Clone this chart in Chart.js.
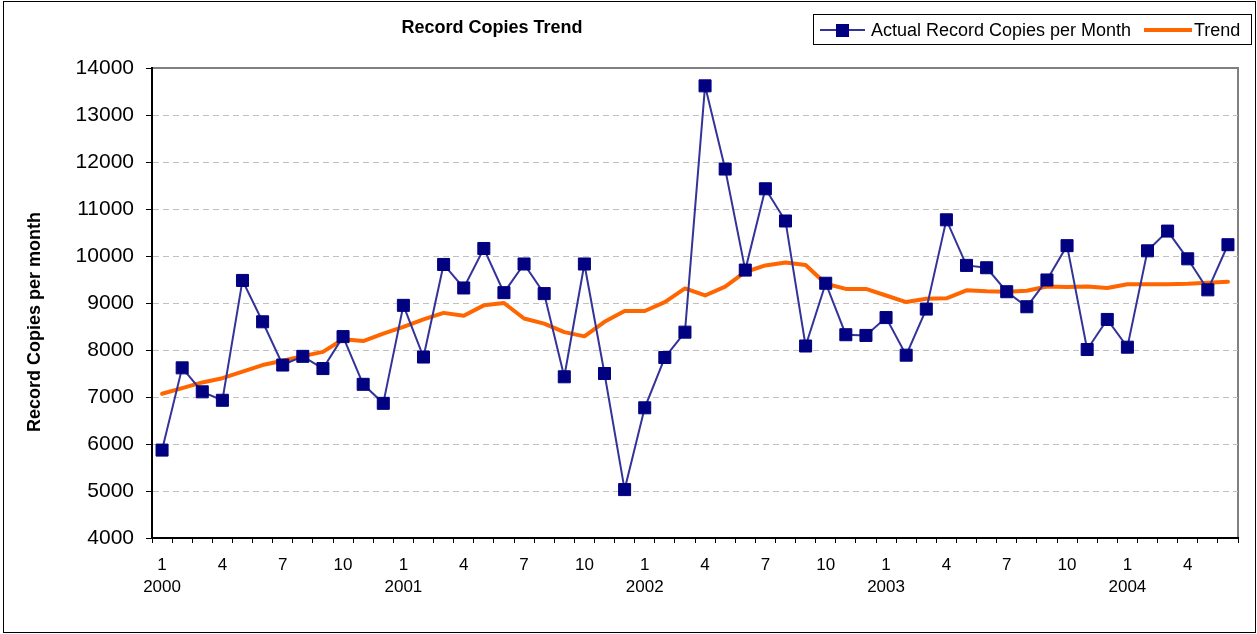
<!DOCTYPE html>
<html>
<head>
<meta charset="utf-8">
<title>Record Copies Trend</title>
<script src="https://cdn.jsdelivr.net/npm/chart.js@4.4.0/dist/chart.umd.min.js"></script>
<style>
  html, body { margin: 0; padding: 0; background: #fff; }
  #wrap { position: relative; width: 1257px; height: 634px; }
</style>
</head>
<body>
<div id="wrap"><canvas id="record-trend"></canvas></div>
<script>
// one entry per month, Jan 2000 .. Jun 2004
var months = [1,2,3,4,5,6,7,8,9,10,11,12,
              1,2,3,4,5,6,7,8,9,10,11,12,
              1,2,3,4,5,6,7,8,9,10,11,12,
              1,2,3,4,5,6,7,8,9,10,11,12,
              1,2,3,4,5,6];
var years = [2000,2000,2000,2000,2000,2000,2000,2000,2000,2000,2000,2000,
             2001,2001,2001,2001,2001,2001,2001,2001,2001,2001,2001,2001,
             2002,2002,2002,2002,2002,2002,2002,2002,2002,2002,2002,2002,
             2003,2003,2003,2003,2003,2003,2003,2003,2003,2003,2003,2003,
             2004,2004,2004,2004,2004,2004];

var actualCopies = [5870, 7620, 7110, 6930, 9480, 8600, 7680, 7865, 7605, 8285, 7270, 6865,
                    8950, 7850, 9820, 9320, 10160, 9220, 9830, 9200, 7430, 9830, 7500, 5030,
                    6770, 7840, 8380, 13620, 11850, 9700, 11430, 10745, 8085, 9420, 8325, 8310,
                    8690, 7890, 8870, 10770, 9800, 9750, 9240, 8920, 9490, 10220, 8010, 8650,
                    8060, 10110, 10530, 9940, 9280, 10240];

var trendCopies = [7070, 7190, 7310, 7400, 7540, 7680, 7770, 7870, 7960, 8230, 8190, 8350,
                   8490, 8650, 8790, 8730, 8950, 9000, 8670, 8560, 8380, 8290, 8600, 8830,
                   8830, 9020, 9310, 9160, 9350, 9660, 9800, 9860, 9810, 9410, 9300, 9300,
                   9160, 9020, 9090, 9100, 9270, 9250, 9240, 9260, 9350, 9340, 9350, 9320,
                   9400, 9400, 9400, 9410, 9430, 9450];

var yTicksMin = 4000, yTicksMax = 14000, yStep = 1000;

var FONT = "'Liberation Sans', Arial, sans-serif";
Chart.defaults.font.family = FONT;
Chart.defaults.color = '#000';

var labels = months.map(function (m, i) { return years[i] + '-' + m; });

// frame, title, axis title and legend box
var decor = {
  id: 'decor',
  beforeDraw: function (chart) {
    var ctx = chart.ctx, a = chart.chartArea;
    ctx.save();
    ctx.fillStyle = '#fff';
    ctx.fillRect(0, 0, chart.width, chart.height);
    ctx.strokeStyle = '#000';
    ctx.lineWidth = 1;
    ctx.strokeRect(3.5, 1.5, 1252, 631);
    ctx.strokeStyle = '#808080';
    ctx.lineWidth = 2;
    ctx.beginPath();
    ctx.moveTo(a.left, a.top);
    ctx.lineTo(a.right, a.top);
    ctx.lineTo(a.right, a.bottom);
    ctx.stroke();
    ctx.restore();
  },
  afterDraw: function (chart) {
    var ctx = chart.ctx;
    ctx.save();
    ctx.fillStyle = '#000';
    ctx.textBaseline = 'middle';

    ctx.font = 'bold 18px ' + FONT;
    ctx.textAlign = 'center';
    ctx.fillText('Record Copies Trend', 492, 28);

    ctx.save();
    ctx.translate(35, 322);
    ctx.rotate(-Math.PI / 2);
    ctx.fillText('Record Copies per month', 0, 0);
    ctx.restore();

    // legend
    ctx.strokeStyle = '#000';
    ctx.lineWidth = 1;
    ctx.strokeRect(813.5, 14.5, 438, 30);
    ctx.strokeStyle = '#333399';
    ctx.lineWidth = 2;
    ctx.beginPath();
    ctx.moveTo(820, 30);
    ctx.lineTo(865, 30);
    ctx.stroke();
    ctx.fillStyle = '#000080';
    ctx.fillRect(836, 24, 13, 13);
    ctx.strokeStyle = '#ff6600';
    ctx.lineWidth = 4;
    ctx.beginPath();
    ctx.moveTo(1144, 30);
    ctx.lineTo(1192, 30);
    ctx.stroke();
    ctx.fillStyle = '#000';
    ctx.font = '18px ' + FONT;
    ctx.textAlign = 'left';
    ctx.fillText('Actual Record Copies per Month', 871, 31);
    ctx.fillText('Trend', 1194, 31);
    ctx.restore();
  }
};

var chart = new Chart(document.getElementById('record-trend'), {
  type: 'line',
  data: {
    labels: labels,
    datasets: [
      {
        label: 'Actual Record Copies per Month',
        data: actualCopies,
        borderColor: '#333399',
        borderWidth: 2,
        pointStyle: 'rect',
        pointRadius: 8.5,
        pointBackgroundColor: '#000080',
        pointBorderColor: '#000080',
        pointBorderWidth: 1,
        tension: 0,
        fill: false,
        order: 1
      },
      {
        label: 'Trend',
        data: trendCopies,
        borderColor: '#ff6600',
        borderWidth: 4,
        borderJoinStyle: 'round',
        borderCapStyle: 'round',
        pointRadius: 0,
        tension: 0,
        fill: false,
        order: 2
      }
    ]
  },
  options: {
    responsive: true,
    maintainAspectRatio: false,
    animation: false,
    devicePixelRatio: 1,
    layout: { padding: { top: 68, right: 19, left: 0, bottom: 0 } },
    plugins: {
      legend: { display: false },
      title: { display: false },
      tooltip: { enabled: false }
    },
    scales: {
      x: {
        type: 'category',
        offset: true,
        grid: { offset: true, drawOnChartArea: false, drawTicks: true, tickLength: 5, tickColor: '#000', tickWidth: 1 },
        border: { color: '#000', width: 2 },
        ticks: {
          autoSkip: false,
          maxRotation: 0,
          padding: 11,
          color: '#000',
          font: { size: 17, lineHeight: 1.3 },
          callback: function (val, idx) {
            var m = months[idx];
            if ((m - 1) % 3 !== 0) return '';
            return m === 1 ? [String(m), String(years[idx])] : String(m);
          }
        },
        afterFit: function (s) { s.height = 96; }
      },
      y: {
        min: yTicksMin,
        max: yTicksMax,
        grid: {
          color: function (c) { return c.tick && c.tick.value === yTicksMax ? 'rgba(0,0,0,0)' : '#c0c0c0'; },
          drawTicks: true,
          tickLength: 6,
          tickColor: '#000'
        },
        border: { color: '#000', width: 2, dash: [6, 4] },
        ticks: {
          stepSize: yStep,
          padding: 12,
          color: '#000',
          font: { size: 21 },
          callback: function (v) { return String(v); }
        },
        afterFit: function (s) { s.width = 152; }
      }
    }
  },
  plugins: [decor]
});
</script>
</body>
</html>
